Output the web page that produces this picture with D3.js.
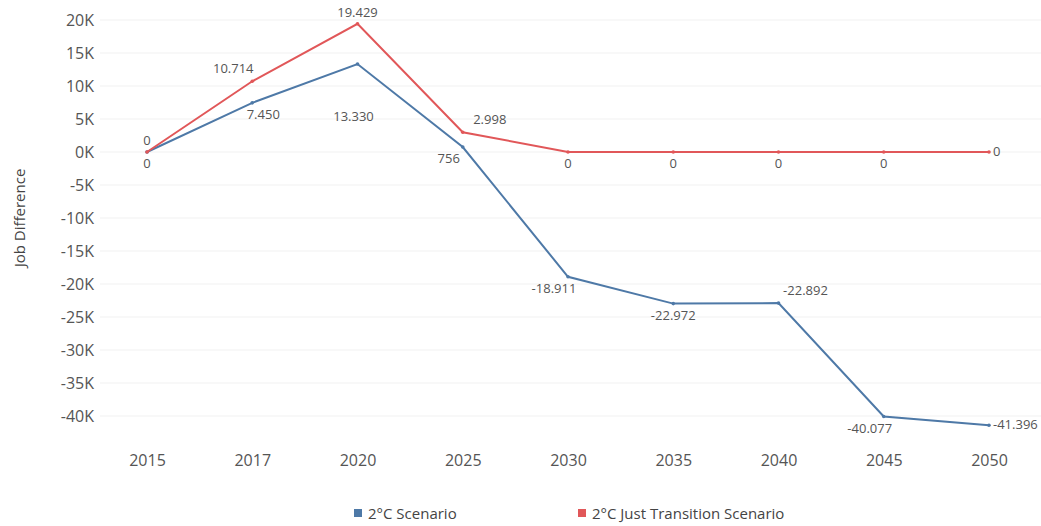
<!DOCTYPE html>
<html>
<head>
<meta charset="utf-8">
<script src="https://cdn.jsdelivr.net/npm/d3@7"></script>
<style>
  html, body { margin: 0; padding: 0; background: #fff; }
  svg { display: block; font-family: "Open Sans", "Noto Sans", sans-serif; }
</style>
</head>
<body>
<svg id="chart" width="1041" height="526"></svg>
<script>
// Job difference vs. baseline, by year
const years = ["2015", "2017", "2020", "2025", "2030", "2035", "2040", "2045", "2050"];
const scenario2C = [0, 7450, 13330, 756, -18911, -22972, -22892, -40077, -41396];
const justTransition = [0, 10714, 19429, 2998, 0, 0, 0, 0, 0];
const yTicks = [20000, 15000, 10000, 5000, 0, -5000, -10000, -15000, -20000, -25000, -30000, -35000, -40000];
const seriesNames = ["2°C Scenario", "2°C Just Transition Scenario"];
const colors = ["#4e79a7", "#e15759"];

// label placement per point (anchor side relative to the marker)
const placeBlue = ["b", "br", "bfar", "bl", "bl", "b", "tr", "bl", "r"];
const placeRed  = ["t", "tl", "t", "tr", "b", "b", "b", "b", "r"];

const svg = d3.select("#chart");
const x = d3.scalePoint().domain(years).range([147, 989]);
const y = d3.scaleLinear().domain([-40000, 20000]).range([416, 20]);

const fmtTick = v => (v / 1000) + "K";
const fmtVal = v => d3.format(",")(v).replace(/,/g, ".").replace("\u2212", "-");

// gridlines
svg.append("g")
  .selectAll("line")
  .data(yTicks)
  .join("line")
  .attr("x1", 100).attr("x2", 1041)
  .attr("y1", d => y(d)).attr("y2", d => y(d))
  .attr("stroke", "#f1f1f1").attr("stroke-width", 1);

// y axis
const yAxis = svg.append("g")
  .attr("transform", "translate(94,0)")
  .call(d3.axisLeft(y).tickValues(yTicks).tickFormat(fmtTick).tickSize(0).tickPadding(0));
yAxis.select(".domain").remove();
yAxis.selectAll("text")
  .attr("fill", "#555").attr("font-size", 16).attr("font-family", "'Open Sans', sans-serif");

// x axis
const xAxis = svg.append("g")
  .attr("transform", "translate(0,455)")
  .call(d3.axisBottom(x).tickSize(0).tickPadding(0));
xAxis.select(".domain").remove();
xAxis.selectAll("text")
  .attr("fill", "#555").attr("font-size", 16).attr("font-family", "'Open Sans', sans-serif");

// y axis title
svg.append("text")
  .attr("transform", "translate(25,218) rotate(-90)")
  .attr("text-anchor", "middle")
  .attr("fill", "#444").attr("font-size", 15)
  .text("Job Difference");

const line = d3.line().x((d, i) => x(years[i])).y(d => y(d));

function offset(p) {
  switch (p) {
    case "t": return [0, -7, "middle"];
    case "b": return [0, 16, "middle"];
    case "bfar": return [-4, 57, "middle"];
    case "br": return [11, 16, "middle"];
    case "bl": return [-14, 16, "middle"];
    case "tr": return [27, -8, "middle"];
    case "tl": return [-19, -8, "middle"];
    case "r": return [4, 4, "start"];
  }
}

function drawSeries(vals, color, places) {
  const g = svg.append("g");
  g.append("path")
    .datum(vals)
    .attr("d", line)
    .attr("fill", "none")
    .attr("stroke", color)
    .attr("stroke-width", 2);
  g.selectAll("circle")
    .data(vals)
    .join("circle")
    .attr("cx", (d, i) => x(years[i]))
    .attr("cy", d => y(d))
    .attr("r", 1.8)
    .attr("fill", color);
  g.selectAll("text")
    .data(vals)
    .join("text")
    .attr("x", (d, i) => x(years[i]) + offset(places[i])[0])
    .attr("y", d => y(d))
    .attr("dy", (d, i) => offset(places[i])[1])
    .attr("text-anchor", (d, i) => offset(places[i])[2])
    .attr("fill", "#555")
    .attr("font-size", 13)
    .text(d => fmtVal(d));
}

drawSeries(scenario2C, colors[0], placeBlue);
drawSeries(justTransition, colors[1], placeRed);

// legend
const legendX = [354, 578];
const legend = svg.append("g");
seriesNames.forEach((name, i) => {
  legend.append("rect")
    .attr("x", legendX[i]).attr("y", 509)
    .attr("width", 8).attr("height", 8)
    .attr("fill", colors[i]);
  legend.append("text")
    .attr("x", legendX[i] + 14).attr("y", 519)
    .attr("fill", "#444").attr("font-size", 15)
    .text(name);
});
</script>
</body>
</html>
